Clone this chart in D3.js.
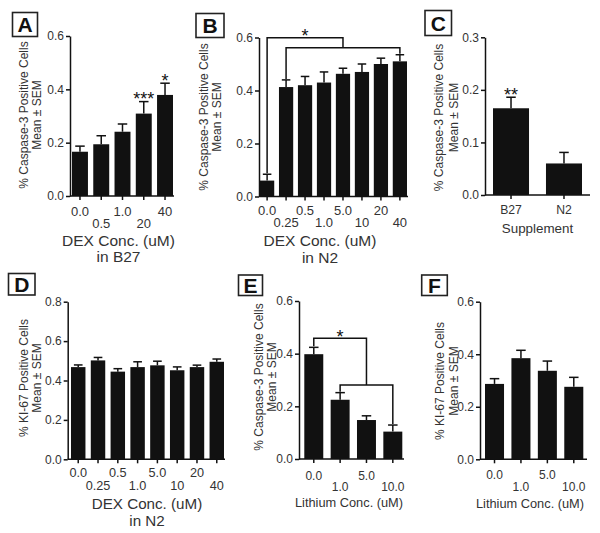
<!DOCTYPE html>
<html>
<head>
<meta charset="utf-8">
<script src="https://cdn.jsdelivr.net/npm/d3@7"></script>
<style>
body{margin:0;background:#fff;}
text{font-family:"Liberation Sans",Arial,Helvetica,sans-serif;}
</style>
</head>
<body>
<script>
// ---------- DATA ----------
const catsA = ["0.0","0.5","1.0","20","40"];
const meanA = [0.166,0.194,0.241,0.309,0.379];
const semA  = [0.021,0.032,0.029,0.045,0.044];
const sigA  = ["","","","***","*"];

const catsB = ["0.0","0.25","0.5","1.0","5.0","10","20","40"];
const meanB = [0.060,0.413,0.420,0.430,0.463,0.470,0.500,0.510];
const semB  = [0.024,0.027,0.033,0.040,0.021,0.030,0.022,0.025];

const catsC = ["B27","N2"];
const meanC = [0.165,0.060];
const semC  = [0.021,0.021];
const sigC  = ["**",""];

const catsD = ["0.0","0.25","0.5","1.0","5.0","10","20","40"];
const meanD = [0.468,0.502,0.445,0.468,0.477,0.452,0.468,0.495];
const semD  = [0.011,0.015,0.015,0.027,0.021,0.017,0.010,0.014];

const catsE = ["0.0","1.0","5.0","10.0"];
const meanE = [0.398,0.225,0.148,0.104];
const semE  = [0.026,0.027,0.016,0.025];

const catsF = ["0.0","1.0","5.0","10.0"];
const meanF = [0.287,0.385,0.337,0.276];
const semF  = [0.020,0.030,0.037,0.036];

const capsTitle = ["% Caspase-3 Positive Cells","Mean \u00B1 SEM"];
const ki67Title = ["% KI-67 Positive Cells","Mean \u00B1 SEM"];
const dexB27 = ["DEX Conc. (uM)","in B27"];
const dexN2 = ["DEX Conc. (uM)","in N2"];
const suppTitle = ["Supplement"];
const lithTitle = ["Lithium Conc. (uM)"];

// ---------- DRAW ----------
const svg = d3.select("body").append("svg").attr("width",600).attr("height",533);
const TXT = "#333", INK = "#111";

function panel(c, cats, means, sems, sigs, ytitle, xtitle, bracket){
  const g = svg.append("g");
  const x = d3.scaleBand().domain(cats).range(c.band).paddingInner(c.pi).paddingOuter(0);
  const y = d3.scaleLinear().domain([0,c.ymax]).range([c.bottom,c.top]);
  const bw = x.bandwidth();

  // y axis
  const ya = g.append("g").attr("transform",`translate(${c.ax},0)`)
    .call(d3.axisLeft(y).tickValues(d3.range(0,c.ymax+1e-9,c.ystep)).tickFormat(d3.format(".1f"))
      .tickSize(4).tickSizeOuter(0).tickPadding(2));
  ya.select(".domain").attr("stroke",INK).attr("stroke-width",1.5);
  ya.selectAll(".tick line").attr("stroke",INK).attr("stroke-width",1.5);
  ya.selectAll(".tick text").attr("fill",TXT).style("font-size","12px")
    .style("font-family","'Liberation Sans',Arial,sans-serif");

  // x axis
  const xa = g.append("g").attr("transform",`translate(0,${c.bottom})`)
    .call(d3.axisBottom(x).tickSize(4).tickSizeOuter(0).tickFormat(""));
  xa.select(".domain").remove();
  xa.selectAll(".tick line").attr("stroke",INK).attr("stroke-width",1.5);
  g.append("line").attr("x1",c.ax).attr("x2",c.axEnd).attr("y1",c.bottom).attr("y2",c.bottom)
    .attr("stroke",INK).attr("stroke-width",1.5);

  cats.forEach((k,i)=>{
    const row = (c.rows===1 || i%2===0) ? c.row1 : c.row2;
    g.append("text").attr("x",x(k)+bw/2).attr("y",row+0.35*c.tickFs)
      .attr("text-anchor","middle").attr("fill",TXT).style("font-size",c.tickFs+"px").text(k);
  });

  // bars
  g.selectAll("rect.bar").data(cats).join("rect").attr("class","bar")
    .attr("x",d=>x(d)).attr("width",bw)
    .attr("y",(d,i)=>y(means[i])).attr("height",(d,i)=>c.bottom-y(means[i]))
    .attr("fill",INK);
  const capW = Math.min(9.5,bw*0.6);
  cats.forEach((k,i)=>{
    const cx = x(k)+bw/2, t = y(means[i]+sems[i]);
    g.append("line").attr("x1",cx).attr("x2",cx).attr("y1",y(means[i])).attr("y2",t)
      .attr("stroke",INK).attr("stroke-width",1.5);
    g.append("line").attr("x1",cx-capW/2).attr("x2",cx+capW/2).attr("y1",t).attr("y2",t)
      .attr("stroke",INK).attr("stroke-width",1.5);
    if(sigs && sigs[i]){
      g.append("text").attr("x",cx).attr("y",t-6.5+0.57*18).attr("text-anchor","middle")
        .attr("fill",INK).style("font-size","18px").text(sigs[i]);
    }
  });

  // bracket
  if(bracket){
    const cxi = i => x(cats[i])+bw/2;
    const tp = i => y(means[i]+sems[i]) - 1;
    const a = bracket.from, grp = bracket.to;
    const gl = cxi(grp[0]), gr = cxi(grp[grp.length-1]), gm = (gl+gr)/2;
    const la = cxi(a);
    const p1 = `M${la},${tp(a)}V${bracket.y1}H${gm}V${bracket.y2}`;
    const p2 = `M${gl},${tp(grp[0])}V${bracket.y2}H${gr}V${tp(grp[grp.length-1])}`;
    [p1,p2].forEach(p=>g.append("path").attr("d",p).attr("fill","none")
      .attr("stroke",INK).attr("stroke-width",1.5));
    g.append("text").attr("x",(la+gm)/2).attr("y",bracket.y1-5.5+0.57*18).attr("text-anchor","middle")
      .attr("fill",INK).style("font-size","18px").text("*");
  }

  // y title
  ytitle.forEach((t,i)=>{
    g.append("text").attr("transform",`translate(${c.ytx[i]},${c.yty}) rotate(-90)`)
      .attr("text-anchor","middle").attr("dy","0.35em").attr("fill",TXT)
      .style("font-size","12px").text(t);
  });
  // x title
  xtitle.forEach((t,i)=>{
    g.append("text").attr("x",c.xtx).attr("y",c.xty[i]+0.36*c.xtFs)
      .attr("text-anchor","middle").attr("fill",TXT).style("font-size",c.xtFs+"px").text(t);
  });
  // panel letter
  const b = c.box;
  g.append("rect").attr("x",b[0]).attr("y",b[1]).attr("width",b[2]).attr("height",b[3])
    .attr("fill","#fff").attr("stroke","#222").attr("stroke-width",1.6);
  g.append("text").attr("x",b[0]+b[2]/2).attr("y",b[1]+b[3]/2+0.36*21).attr("text-anchor","middle")
    .attr("fill","#111").style("font-size","21px").style("font-weight","bold").text(c.letter);
}

panel({letter:"A",box:[12.5,12.5,25,24],ax:70,axEnd:174,top:36,bottom:196,band:[72,173],pi:0.25,
  ymax:0.6,ystep:0.2,tickFs:13,row1:211.7,row2:223.3,rows:2,ytx:[24,36.7],yty:115,
  xtx:118.5,xty:[240,256],xtFs:15.5},
  catsA,meanA,semA,sigA,capsTitle,dexB27,null);

panel({letter:"B",box:[196,13.5,28,24],ax:259,axEnd:408,top:37.5,bottom:196.5,band:[260,407],pi:0.25,
  ymax:0.6,ystep:0.2,tickFs:13,row1:210.5,row2:222.7,rows:2,ytx:[203.3,216.7],yty:117,
  xtx:320,xty:[240,257],xtFs:15.5},
  catsB,meanB,semB,null,capsTitle,dexN2,{from:0,to:[1,2,3,4,5,6,7],y1:37.7,y2:47.7});

panel({letter:"C",box:[425,10.5,26.5,25],ax:485,axEnd:590,top:37.3,bottom:195,band:[493,582],pi:0.32,
  ymax:0.3,ystep:0.1,tickFs:12.2,row1:210,row2:210,rows:1,ytx:[438.3,453.3],yty:117.5,
  xtx:537.5,xty:[228],xtFs:13.4},
  catsC,meanC,semC,sigC,capsTitle,suppTitle,null);

panel({letter:"D",box:[8.5,273.5,26.5,21.5],ax:67.7,axEnd:225,top:301.7,bottom:459.3,band:[71,224],pi:0.27,
  ymax:0.8,ystep:0.2,tickFs:12.7,row1:473,row2:486,rows:2,ytx:[23.3,36.7],yty:378,
  xtx:147,xty:[504,520.5],xtFs:15.2},
  catsD,meanD,semD,null,ki67Title,dexN2,null);

panel({letter:"E",box:[238.5,275,24,20.5],ax:299,axEnd:404,top:301,bottom:459,band:[304.3,402.3],pi:0.28,
  ymax:0.6,ystep:0.2,tickFs:12,row1:475.5,row2:486.7,rows:2,ytx:[258.3,271.7],yty:377,
  xtx:349,xty:[502],xtFs:12.8},
  catsE,meanE,semE,null,capsTitle,lithTitle,{from:0,to:[1,2,3],y1:338.3,y2:385});

panel({letter:"F",box:[421.7,275,25.6,20.5],ax:480,axEnd:587,top:301.7,bottom:459.3,band:[485,583.3],pi:0.28,
  ymax:0.6,ystep:0.2,tickFs:12,row1:475,row2:486.7,rows:2,ytx:[440,453.3],yty:381,
  xtx:530,xty:[503],xtFs:12.8},
  catsF,meanF,semF,null,ki67Title,lithTitle,null);
</script>
</body>
</html>
